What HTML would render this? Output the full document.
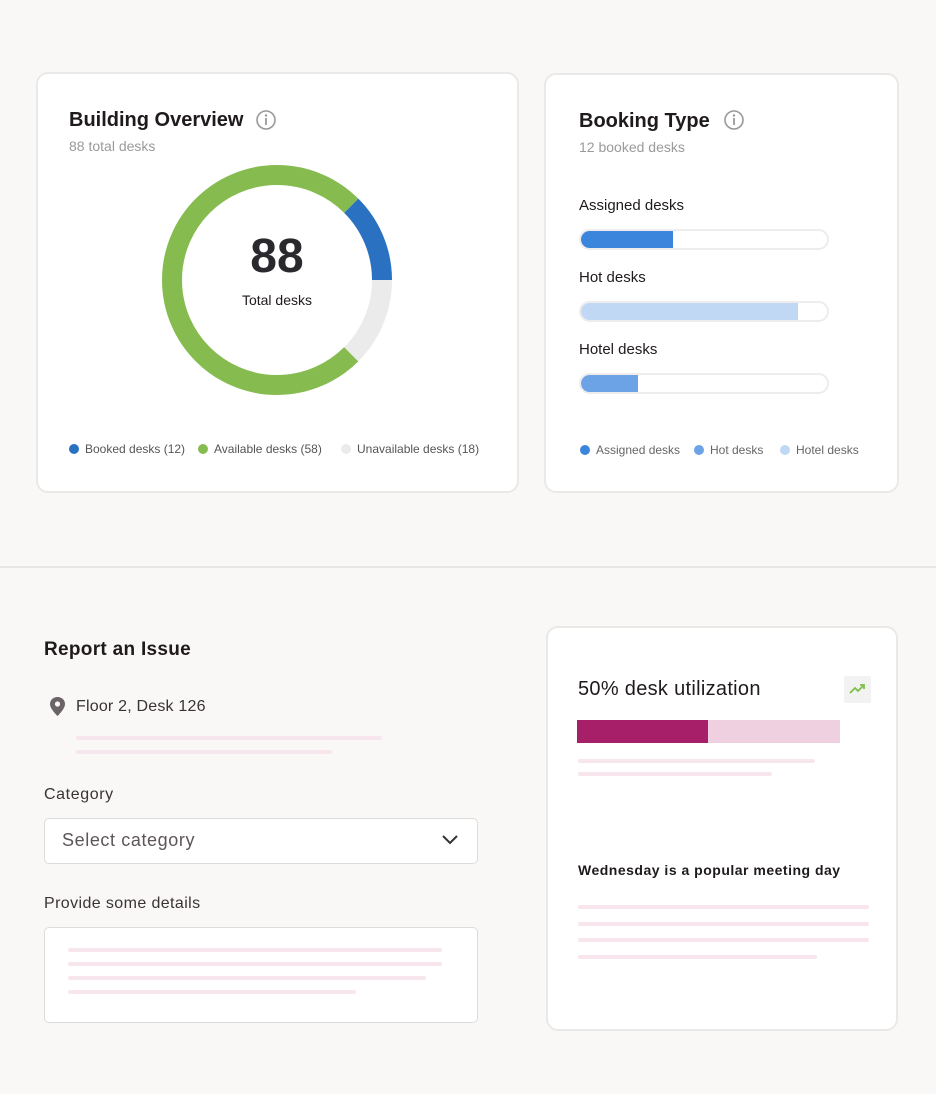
<!DOCTYPE html>
<html><head><style>
*{margin:0;padding:0;box-sizing:border-box}
body{width:936px;height:1094px;background:#f9f8f6;font-family:"Liberation Sans",sans-serif;color:#1f1a1c;position:relative;overflow:hidden}
.a{position:absolute}
.card{position:absolute;background:#fff;border:2px solid #ebe9e7;border-radius:12px}
.t{position:absolute;white-space:nowrap}
.ln{position:absolute;height:4px;border-radius:2px;background:#f7e6ee}
.dot{display:inline-block;width:10px;height:10px;border-radius:50%;vertical-align:-1px;margin-right:6px}
.bar{position:absolute;left:579px;width:250px;height:21px;border:2px solid #eeecec;border-radius:11px;overflow:hidden;background:#fff}
.bar div{height:100%}
</style></head><body>
<div class="card" style="left:36px;top:72px;width:483px;height:421px"></div>
<div class="t" style="left:69px;top:109px;font-size:20px;font-weight:bold">Building Overview</div>
<svg class="a" style="left:254px;top:108px" width="24" height="24"><circle cx="12" cy="12" r="9" fill="none" stroke="#999" stroke-width="1.6"/><circle cx="12" cy="7.5" r="1.2" fill="#999"/><rect x="11.1" y="10" width="1.8" height="7" fill="#999"/></svg>
<div class="t" style="left:69px;top:138px;font-size:14px;color:#9a9a9a">88 total desks</div>
<svg class="a" style="left:0;top:0" width="520" height="500">
<path d="M351.25 205.75 A105 105 0 1 0 351.25 354.25" fill="none" stroke="#86bc4f" stroke-width="20"/>
<path d="M351.25 205.75 A105 105 0 0 1 382 280" fill="none" stroke="#2a72c1" stroke-width="20"/>
<path d="M382 280 A105 105 0 0 1 351.25 354.25" fill="none" stroke="#ebebeb" stroke-width="20"/>
</svg>
<div class="t" style="left:0;width:554px;text-align:center;top:229px;font-size:48px;font-weight:bold;color:#2a2a2e">88</div>
<div class="t" style="left:0;width:554px;text-align:center;top:292px;font-size:14px">Total desks</div>
<div class="t" style="left:69px;top:442px;font-size:12px;color:#555"><span class="dot" style="background:#2a72c1"></span>Booked desks (12)</div>
<div class="t" style="left:198px;top:442px;font-size:12px;color:#555"><span class="dot" style="background:#86bc4f"></span>Available desks (58)</div>
<div class="t" style="left:341px;top:442px;font-size:12px;color:#555"><span class="dot" style="background:#ebebeb"></span>Unavailable desks (18)</div>

<div class="card" style="left:544px;top:73px;width:355px;height:420px"></div>
<div class="t" style="left:579px;top:110px;font-size:20px;font-weight:bold">Booking Type</div>
<svg class="a" style="left:722px;top:108px" width="24" height="24"><circle cx="12" cy="12" r="9" fill="none" stroke="#999" stroke-width="1.6"/><circle cx="12" cy="7.5" r="1.2" fill="#999"/><rect x="11.1" y="10" width="1.8" height="7" fill="#999"/></svg>
<div class="t" style="left:579px;top:139px;font-size:14px;color:#9a9a9a">12 booked desks</div>
<div class="t" style="left:579px;top:197px;font-size:15px">Assigned desks</div>
<div class="bar" style="top:229px"><div style="width:92px;background:#3b86dc"></div></div>
<div class="t" style="left:579px;top:269px;font-size:15px">Hot desks</div>
<div class="bar" style="top:301px"><div style="width:217px;background:#c1d8f4"></div></div>
<div class="t" style="left:579px;top:341px;font-size:15px">Hotel desks</div>
<div class="bar" style="top:373px"><div style="width:57px;background:#6ba3e6"></div></div>
<div class="t" style="left:580px;top:443px;font-size:12px;color:#666"><span class="dot" style="background:#3b86dc"></span>Assigned desks</div>
<div class="t" style="left:694px;top:443px;font-size:12px;color:#666"><span class="dot" style="background:#6ba3e6"></span>Hot desks</div>
<div class="t" style="left:780px;top:443px;font-size:12px;color:#666"><span class="dot" style="background:#c1d8f4"></span>Hotel desks</div>

<div class="a" style="left:0;top:566px;width:936px;height:2px;background:#e8e6e4"></div>

<div class="t" style="left:44px;top:639px;font-size:19px;font-weight:bold;letter-spacing:0.3px">Report an Issue</div>
<svg class="a" style="left:48px;top:696px" width="20" height="22"><path d="M9.5 1C5 1 2 4.3 2 8c0 5 7.5 12 7.5 12S17 13 17 8c0-3.7-3-7-7.5-7z" fill="#6b6367"/><circle cx="9.5" cy="8" r="2.6" fill="#f9f8f6"/></svg>
<div class="t" style="left:76px;top:698px;font-size:16px;color:#3a3336;letter-spacing:0.2px">Floor 2, Desk 126</div>
<div class="ln" style="left:76px;top:736px;width:306px"></div>
<div class="ln" style="left:76px;top:750px;width:256px"></div>
<div class="t" style="left:44px;top:786px;font-size:16px;color:#3a3336;letter-spacing:0.6px">Category</div>
<div class="a" style="left:44px;top:818px;width:434px;height:46px;background:#fff;border:1.5px solid #dedcda;border-radius:5px"></div>
<div class="t" style="left:62px;top:830px;font-size:18px;color:#5d5558;letter-spacing:0.6px">Select category</div>
<svg class="a" style="left:440px;top:832px" width="20" height="16"><path d="M3 4l7 7 7-7" fill="none" stroke="#333" stroke-width="2"/></svg>
<div class="t" style="left:44px;top:895px;font-size:16px;color:#3a3336;letter-spacing:0.4px">Provide some details</div>
<div class="a" style="left:44px;top:927px;width:434px;height:96px;background:#fff;border:1.5px solid #dedcda;border-radius:5px"></div>
<div class="ln" style="left:68px;top:948px;width:374px"></div>
<div class="ln" style="left:68px;top:962px;width:374px"></div>
<div class="ln" style="left:68px;top:976px;width:358px"></div>
<div class="ln" style="left:68px;top:990px;width:288px"></div>

<div class="card" style="left:546px;top:626px;width:352px;height:405px"></div>
<div class="t" style="left:578px;top:678px;font-size:20px;letter-spacing:0.3px">50% desk utilization</div>
<div class="a" style="left:844px;top:676px;width:27px;height:27px;background:#f2f2f2;border-radius:2px"></div>
<svg class="a" style="left:848px;top:681px" width="20" height="16"><path d="M2 12l5-5 3 3 6-6M12 4h4v4" fill="none" stroke="#7cc047" stroke-width="1.8"/></svg>
<div class="a" style="left:577px;top:720px;width:131px;height:23px;background:#a81f69"></div>
<div class="a" style="left:708px;top:720px;width:132px;height:23px;background:#efd0e0"></div>
<div class="ln" style="left:578px;top:759px;width:237px"></div>
<div class="ln" style="left:578px;top:772px;width:194px"></div>
<div class="t" style="left:578px;top:862px;font-size:14px;font-weight:600;letter-spacing:0.5px">Wednesday is a popular meeting day</div>
<div class="ln" style="left:578px;top:905px;width:291px"></div>
<div class="ln" style="left:578px;top:922px;width:291px"></div>
<div class="ln" style="left:578px;top:938px;width:291px"></div>
<div class="ln" style="left:578px;top:955px;width:239px"></div>
</body></html>
